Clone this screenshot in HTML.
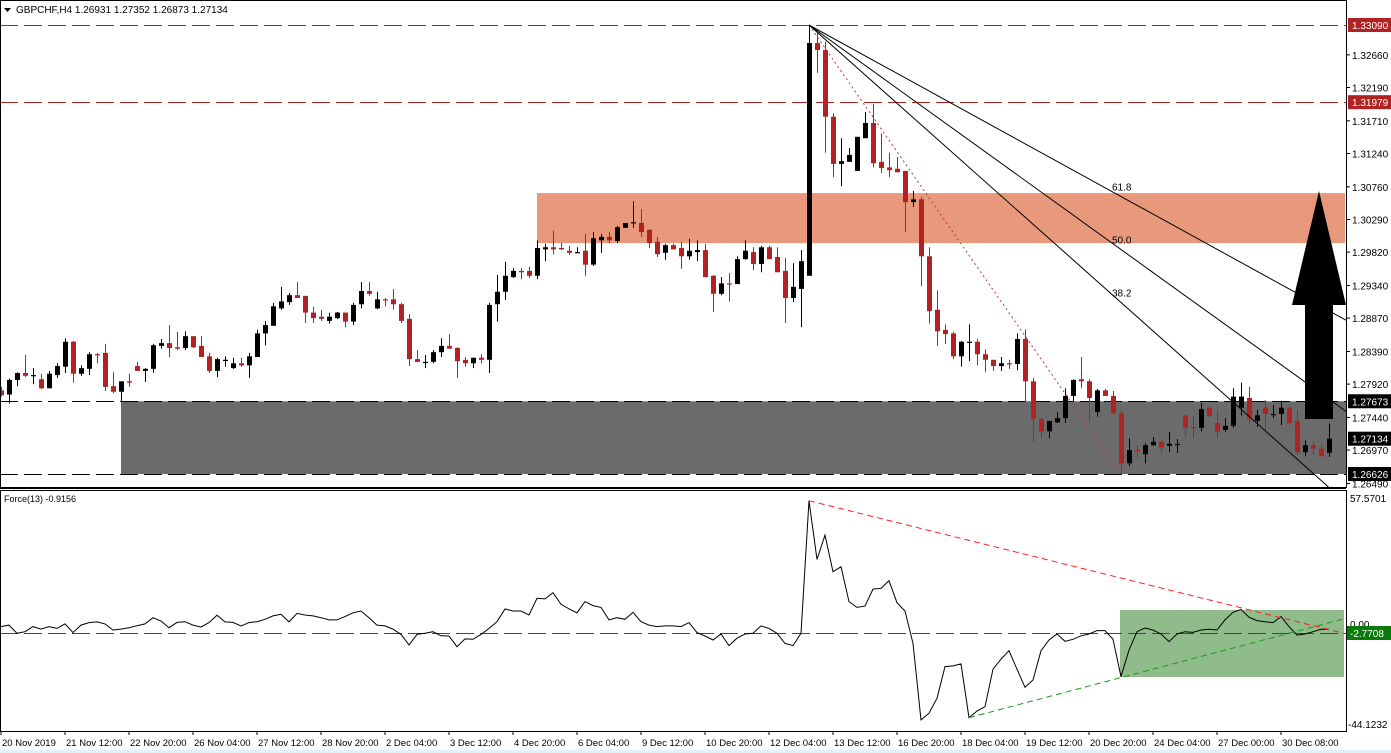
<!DOCTYPE html>
<html><head><meta charset="utf-8"><style>
html,body{margin:0;padding:0;background:#fff;}
svg{display:block;font-family:"Liberation Sans",sans-serif;}
</style></head><body>
<svg id="chart" width="1391" height="753" viewBox="0 0 1391 753" xmlns="http://www.w3.org/2000/svg">
<rect x="0" y="0" width="1391" height="753" fill="#fff"/>
<g id="bg"></g><g id="marks"></g><g id="over"></g><g id="axes"></g>
</svg>
<script>
const opens=[1.2783,1.2777,1.2798,1.2808,1.2805,1.2799,1.2786,1.2805,1.2817,1.2853,1.2807,1.2814,1.2835,1.2837,1.2789,1.2781,1.2796,1.2818,1.2811,1.2814,1.2847,1.2851,1.2845,1.2844,1.2861,1.2847,1.2832,1.2811,1.2827,1.2815,1.2822,1.2819,1.2831,1.2865,1.2876,1.2901,1.2910,1.2920,1.2919,1.2895,1.2889,1.2883,1.2887,1.2895,1.2882,1.2907,1.2926,1.2901,1.2914,1.2914,1.2907,1.2886,1.2828,1.2824,1.2824,1.2838,1.2847,1.2844,1.2827,1.2822,1.2830,1.2827,1.2907,1.2925,1.2946,1.2955,1.2955,1.2948,1.2986,1.2989,1.2988,1.2984,1.2982,1.2984,1.2964,1.2999,1.3004,1.2998,1.3017,1.3024,1.3024,1.3014,1.2997,1.2981,1.2992,1.2988,1.2976,1.2982,1.2985,1.2948,1.2922,1.2937,1.2936,1.2972,1.2982,1.2965,1.2989,1.2975,1.2955,1.2916,1.2929,1.2948,1.3283,1.3273,1.3177,1.3109,1.3112,1.3099,1.3146,1.3168,1.3112,1.3104,1.3102,1.3099,1.3054,1.3058,1.2976,1.2899,1.2870,1.2865,1.2832,1.2853,1.2853,1.2835,1.2827,1.2818,1.2822,1.2821,1.2857,1.2796,1.2742,1.2724,1.2737,1.2743,1.2775,1.2799,1.2796,1.2752,1.2783,1.2775,1.2750,1.2678,1.2697,1.2691,1.2704,1.2709,1.2703,1.2706,1.2747,1.2730,1.2729,1.2758,1.2736,1.2726,1.2732,1.2758,1.2772,1.2739,1.2758,1.2749,1.2749,1.2758,1.2739,1.2694,1.2704,1.2699,1.26931];
const highs=[1.2788,1.2800,1.2809,1.2834,1.2815,1.2807,1.2811,1.2822,1.2858,1.2854,1.2819,1.2838,1.2837,1.2850,1.2809,1.2796,1.2807,1.2824,1.2815,1.2850,1.2857,1.2877,1.2867,1.2868,1.2861,1.2861,1.2837,1.2830,1.2832,1.2830,1.2830,1.2837,1.2870,1.2883,1.2909,1.2932,1.2923,1.2939,1.2919,1.2903,1.2899,1.2895,1.2896,1.2895,1.2909,1.2939,1.2939,1.2925,1.2916,1.2929,1.2909,1.2893,1.2841,1.2834,1.2841,1.2858,1.2864,1.2845,1.2831,1.2830,1.2835,1.2909,1.2949,1.2968,1.2959,1.2959,1.2961,1.2999,1.2994,1.3013,1.2995,1.2991,1.2989,1.3008,1.3011,1.3008,1.3011,1.3020,1.3024,1.3055,1.3044,1.3015,1.3004,1.2994,1.2994,1.2997,1.3001,1.2999,1.2994,1.2949,1.2946,1.2952,1.2976,1.2999,1.2989,1.2991,1.2991,1.2989,1.2974,1.2966,1.2985,1.3309,1.3297,1.3285,1.3182,1.3146,1.3132,1.3148,1.3184,1.3195,1.3153,1.3125,1.3119,1.3099,1.3070,1.3061,1.2989,1.2927,1.2878,1.2867,1.2854,1.2878,1.2857,1.2842,1.2827,1.2831,1.2827,1.2865,1.2871,1.2801,1.2743,1.2739,1.2752,1.2786,1.2799,1.2831,1.2799,1.2785,1.2785,1.2782,1.2755,1.2714,1.2704,1.2707,1.2716,1.2711,1.2723,1.2713,1.2747,1.2746,1.2765,1.2760,1.2753,1.2743,1.2786,1.2794,1.2788,1.2755,1.2769,1.2762,1.2768,1.2760,1.2755,1.2711,1.2710,1.2707,1.27352];
const lows=[1.2774,1.2764,1.2789,1.2802,1.2792,1.2785,1.2786,1.2801,1.2808,1.2794,1.2804,1.2805,1.2822,1.2782,1.2779,1.2767,1.2788,1.2811,1.2795,1.2808,1.2843,1.2831,1.2841,1.2841,1.2844,1.2831,1.2808,1.2802,1.2817,1.2814,1.2817,1.2801,1.2831,1.2848,1.2876,1.2899,1.2906,1.2916,1.2880,1.2880,1.2883,1.2879,1.2886,1.2874,1.2877,1.2901,1.2919,1.2900,1.2904,1.2899,1.2880,1.2818,1.2824,1.2815,1.2822,1.2831,1.2843,1.2801,1.2817,1.2815,1.2822,1.2808,1.2882,1.2913,1.2945,1.2943,1.2945,1.2943,1.2969,1.2979,1.2985,1.2978,1.2981,1.2948,1.2962,1.2981,1.2995,1.2995,1.3017,1.3017,1.3004,1.2988,1.2975,1.2971,1.2986,1.2958,1.2971,1.2969,1.2946,1.2896,1.2920,1.2911,1.2936,1.2971,1.2956,1.2953,1.2972,1.2953,1.2880,1.2910,1.2874,1.2948,1.3240,1.3125,1.3090,1.3077,1.3112,1.3099,1.3146,1.3104,1.3096,1.3090,1.3097,1.3011,1.3047,1.2933,1.2879,1.2847,1.2850,1.2828,1.2817,1.2825,1.2819,1.2809,1.2811,1.2811,1.2814,1.2812,1.2766,1.2709,1.2714,1.2714,1.2736,1.2736,1.2766,1.2786,1.2739,1.2745,1.2775,1.2750,1.2663,1.2674,1.2685,1.2678,1.2703,1.2694,1.2694,1.2693,1.2717,1.2714,1.2724,1.2745,1.2714,1.2723,1.2729,1.2747,1.2735,1.2730,1.2724,1.2743,1.2733,1.2733,1.2690,1.2688,1.2690,1.2688,1.26873];
const closes=[1.2776,1.2798,1.2808,1.2804,1.2805,1.2786,1.2807,1.2818,1.2853,1.2807,1.2815,1.2835,1.2834,1.2788,1.2781,1.2796,1.2794,1.2811,1.2814,1.2848,1.2851,1.2844,1.2843,1.2861,1.2845,1.2831,1.2811,1.2828,1.2827,1.2822,1.2819,1.2832,1.2865,1.2877,1.2904,1.2911,1.2920,1.2916,1.2895,1.2887,1.2886,1.2889,1.2895,1.2882,1.2906,1.2926,1.2922,1.2914,1.2913,1.2907,1.2883,1.2828,1.2824,1.2824,1.2838,1.2847,1.2843,1.2825,1.2822,1.2830,1.2827,1.2906,1.2925,1.2948,1.2955,1.2953,1.2948,1.2988,1.2989,1.2986,1.2986,1.2981,1.2982,1.2964,1.3002,1.3004,1.2999,1.3018,1.3024,1.3025,1.3011,1.2995,1.2979,1.2992,1.2986,1.2976,1.2984,1.2985,1.2946,1.2922,1.2937,1.2936,1.2972,1.2984,1.2965,1.2989,1.2972,1.2953,1.2916,1.2932,1.2969,1.3283,1.3273,1.3177,1.3109,1.3113,1.3122,1.3148,1.3168,1.3110,1.3103,1.3100,1.3097,1.3054,1.3058,1.2976,1.2897,1.2868,1.2864,1.2832,1.2853,1.2853,1.2835,1.2827,1.2818,1.2822,1.2821,1.2857,1.2796,1.2742,1.2724,1.2739,1.2743,1.2775,1.2798,1.2796,1.2772,1.2783,1.2775,1.2750,1.2678,1.2697,1.2696,1.2704,1.2709,1.2701,1.2706,1.2706,1.2729,1.2729,1.2756,1.2746,1.2724,1.2732,1.2774,1.2774,1.2742,1.2747,1.2749,1.2749,1.2758,1.2736,1.2694,1.2704,1.2699,1.2688,1.27134];
const force=[-0.5,0.2,-3.5,-2.8,-0.5,-1.6,-0.5,-1.3,0.7,-3.2,0.2,1.3,1.6,0.7,-2.0,-1.6,-1.0,-0.1,0.7,3.5,2.0,-1.0,1.4,1.7,0.2,-0.7,1.3,4.6,1.6,1.4,-0.2,1.3,1.7,2.8,4.3,5.0,1.6,5.4,4.7,4.3,3.5,2.5,2.5,4.0,5.7,6.5,3.5,0.2,-0.2,-1.6,-4.0,-8.7,-4.0,-3.5,-2.8,-4.6,-4.7,-9.5,-6.0,-6.2,-4.0,-1.3,1.7,7.4,6.5,6.5,4.7,12.2,11.9,14.7,9.5,7.5,5.7,10.7,8.9,8.1,2.5,3.5,2.8,5.9,1.7,0.2,-0.5,-0.2,-0.2,-0.5,1.3,-3.2,-4.7,-6.5,-3.8,-9.0,-5.7,-3.8,-3.5,-0.2,-1.3,-3.5,-8.0,-9.0,-3.5,55.9,29.6,40.5,24.1,26.3,10.7,8.1,8.7,16.3,16.6,20.1,10.2,6.5,-8.0,-42.3,-39.3,-32.6,-18.4,-18.1,-17.2,-41.3,-38.3,-36.4,-19.6,-15.1,-11.3,-19.6,-27.7,-24.4,-11.3,-6.5,-3.8,-7.1,-6.2,-4.6,-3.8,-2.3,-2.3,-6.2,-22.9,-11.0,-2.8,-1.1,-2.0,-3.8,-7.2,-3.8,-2.8,-3.1,-2.0,-1.7,-2.0,2.5,5.9,7.2,3.7,2.2,1.7,1.3,4.0,-0.5,-4.3,-3.8,-2.8,-1.7,-1.7];
const priceTicks=[1.32660,1.32190,1.31710,1.31240,1.30760,1.30290,1.29820,1.29340,1.28870,1.28390,1.27920,1.27440,1.26970,1.26490];
const dateLabels=["20 Nov 2019","21 Nov 12:00","22 Nov 20:00","26 Nov 04:00","27 Nov 12:00","28 Nov 20:00","2 Dec 04:00","3 Dec 12:00","4 Dec 20:00","6 Dec 04:00","9 Dec 12:00","10 Dec 20:00","12 Dec 04:00","13 Dec 12:00","16 Dec 20:00","18 Dec 04:00","19 Dec 12:00","20 Dec 20:00","24 Dec 04:00","27 Dec 00:00","30 Dec 08:00"];
const resistLevels=[1.33090,1.31979];
const supportBand=[1.27673,1.26626];
const resistBand=[1.30670,1.29950];
const fanLevels=[0.382,0.5,0.618];
const fanLabels=["38.2","50.0","61.8"];
const fanHigh=[101,1.33090], fanLow=[140,1.26626];

const NS="http://www.w3.org/2000/svg";
const PR=1346;
const xOf=i=>1+8*i;
const yP=p=>25+(1.33090-p)*6946;
const yF=v=>625.5-v*2.232;
function mk(parent,tag,attrs,text){const e=document.createElementNS(NS,tag);for(const k in attrs)e.setAttribute(k,attrs[k]);if(text!==undefined)e.textContent=text;document.getElementById(parent).appendChild(e);return e;}

let e;
e=mk('bg','rect',{x:121,y:yP(supportBand[0]),width:PR-121,height:yP(supportBand[1])-yP(supportBand[0]),fill:'#6b6b6b'});


e=mk('bg','rect',{x:537,y:yP(resistBand[0]),width:PR-1-537,height:yP(resistBand[1])-yP(resistBand[0]),fill:'#e9997b'});


resistLevels.forEach((p,k)=>{
  e=mk('bg','line',{x1:0,x2:PR,y1:Math.round(yP(p))+0.5,y2:Math.round(yP(p))+0.5,stroke:'#b22222','stroke-width':1,'stroke-dasharray':'18,6'});
  
  
});
supportBand.forEach((p,k)=>{
  e=mk('bg','line',{x1:0,x2:PR,y1:Math.round(yP(p))+0.5,y2:Math.round(yP(p))+0.5,stroke:'#000','stroke-width':1,'stroke-dasharray':'18,6'});
  
  
});
e=mk('bg','rect',{x:1120,y:610,width:224,height:67,fill:'#8fbc8a'});


e=mk('bg','line',{x1:0,x2:PR,y1:633.5,y2:633.5,stroke:'#0a6e0a','stroke-width':1,'stroke-dasharray':'18,6'});



for(let i=0;i<opens.length;i++){
  const o=opens[i],c=closes[i],h=highs[i],l=lows[i];
  const col=c>=o?'#000':'#b22222';
  const x=xOf(i);
  const g=mk('marks','g',{});
  
  
  const w=document.createElementNS(NS,'line');
  w.setAttribute('x1',x+0.5);w.setAttribute('x2',x+0.5);w.setAttribute('y1',yP(h));w.setAttribute('y2',yP(l));w.setAttribute('stroke',col);
  g.appendChild(w);
  const top=yP(Math.max(o,c)),bot=yP(Math.min(o,c));
  const b=document.createElementNS(NS,'rect');
  b.setAttribute('x',x-2);b.setAttribute('width',5);b.setAttribute('y',top);b.setAttribute('height',Math.max(1.2,bot-top));b.setAttribute('fill',col);
  g.appendChild(b);
}

const ax=xOf(fanHigh[0]),ay=yP(fanHigh[1]),bx=xOf(fanLow[0]),by=yP(fanLow[1]);
e=mk('over','line',{x1:ax,y1:ay,x2:bx,y2:by,stroke:'#c0392b','stroke-width':1,'stroke-dasharray':'2,3'});


fanLevels.forEach((lv,k)=>{
  const ty=by-(by-ay)*lv;
  const slope=(ty-ay)/(bx-ax);
  let x2=PR,y2=ay+slope*(PR-ax);
  if(y2>487){y2=487;x2=ax+(487-ay)/slope;}
  e=mk('over','line',{x1:ax,y1:ay,x2:x2,y2:y2,stroke:'#000','stroke-width':1});
  
  
  e=mk('over','text',{x:bx-9,y:ty-6,'font-size':10,fill:'#000'},fanLabels[k]);
  
  
});
e=mk('over','polygon',{points:'1319,191 1346,305 1333,305 1333,419 1305,419 1305,305 1292,305',fill:'#000'});



let pts=force.map((v,i)=>xOf(i)+','+yF(v).toFixed(1)).join(' ');
e=mk('marks','polyline',{points:pts,fill:'none',stroke:'#000','stroke-width':1});


e=mk('over','line',{x1:xOf(101),y1:yF(force[101]),x2:1344,y2:yF(-3.5),stroke:'#ff2020','stroke-width':1,'stroke-dasharray':'6,4'});


e=mk('over','line',{x1:xOf(121),y1:yF(force[121]),x2:1344,y2:yF(3),stroke:'#1a9a1a','stroke-width':1,'stroke-dasharray':'6,4'});



[[0.5,0.5,PR,487],[0.5,490.5,PR,241]].forEach((r,k)=>{
  e=mk('axes','rect',{x:r[0],y:r[1],width:r[2],height:r[3],fill:'none',stroke:'#000','stroke-width':1});
  
  
});
mk('axes','line',{x1:0,x2:PR,y1:488.5,y2:488.5,stroke:'#000'});
priceTicks.forEach(p=>{
  const y=yP(p);
  mk('axes','line',{x1:PR,x2:PR+4,y1:y,y2:y,stroke:'#000'});
  e=mk('axes','text',{x:1352,y:y+4,'font-size':10,fill:'#000'},p.toFixed(5));
  
  
});
function tag(y,txt,bg,name){
  e=mk('axes','rect',{x:1348,y:y-7,width:43,height:14,fill:bg});
  
  
  e=mk('axes','text',{x:1352,y:y+4,'font-size':10,fill:'#fff'},txt);
  
  
}
tag(yP(1.33090),'1.33090','#b22222','tag-high');
tag(yP(1.31979),'1.31979','#b22222','tag-resistance');
tag(yP(1.27673),'1.27673','#000','tag-support-top');
tag(yP(closes[closes.length-1]),'1.27134','#000','tag-last-price');
tag(yP(1.26626),'1.26626','#000','tag-support-bottom');
e=mk('axes','text',{x:1350,y:502,'font-size':10,fill:'#000'},'57.5701');


e=mk('axes','text',{x:1348,y:728,'font-size':10,fill:'#000'},'-44.1232');


e=mk('axes','text',{x:1350,y:628,'font-size':10,fill:'#000'},'0.00');


mk('axes','rect',{x:1347,y:626,width:44,height:14,fill:'#0a7a0a'});
e=mk('axes','text',{x:1350,y:637,'font-size':10,fill:'#fff'},'-2.7708');


dateLabels.forEach((d,k)=>{
  const x=xOf(8*k);
  mk('axes','line',{x1:x,x2:x,y1:731,y2:735,stroke:'#000'});
  e=mk('axes','text',{x:x+1,y:746,'font-size':9.5,fill:'#000'},d);
  
  
});
mk('axes','rect',{x:0,y:750,width:1391,height:3,fill:'#e0f4f8'});
e=mk('axes','polygon',{points:'4,8 11,8 7.5,12',fill:'#000'});


e=mk('axes','text',{x:16,y:13,'font-size':10,fill:'#000'},'GBPCHF,H4  1.26931 1.27352 1.26873 1.27134');


e=mk('axes','text',{x:4,y:502,'font-size':9,fill:'#000'},'Force(13) -0.9156');


</script>
</body></html>
